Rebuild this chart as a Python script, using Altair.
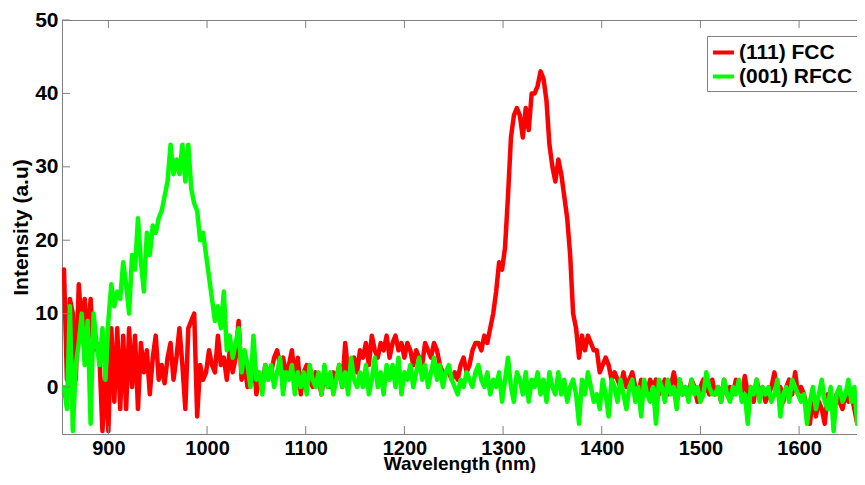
import altair as alt
import pandas as pd

# wavelength grid (nm)
wavelength = list(range(855, 1666, 3))

# (111) FCC intensity
fcc = [
    16, 1, 12, 10, 1, 14, 8, 12, 6, 12,
    5, 6, 4, -6, 2, -6, 8, -2, 8, -3,
    7, -3, 8, 0, 7, -3, 6, 2, 5, -1,
    4, 7, 1, 3, 0.5, 4, 6, 1, 4, 8,
    3, -3, 8, 9, 10, -4, 3, 1, 2, 5,
    3, 2, 7, 3, 4, 1, 5, 2, 4, 9,
    1, 3, 0, 2, 4, -1, 1, 0, 3, 2,
    2, 4, 5, 3, 4, 2, 3, 5, 1, 4,
    -1, 2, 3, 1, 0, 2, 1, -1, 2, 1,
    0, 2, 1, 3, 0, 6, 2, 3, 4, 2,
    5, 4, 6, 3, 7, 5, 4, 6, 5, 7,
    4, 6, 7, 5, 6, 4, 6, 5, 3, 5,
    4, 3, 6, 5, 4, 6, 5, 3, 2, 2,
    2, 1, 2, 1, 3, 4, 2, 3, 5, 6,
    6, 5, 7, 6, 8, 10, 13, 17, 16, 19,
    26, 34, 37, 38, 37, 34, 38, 35, 40, 40,
    41, 43, 42, 39, 33, 30, 28, 31, 29, 26,
    23, 18, 10, 8, 4, 7, 5, 7, 6, 5,
    5, 2, 3, 4, 3, 1, 2, 1, 0, 2,
    0, 1, 2, 0, -1, 1, 0, -1, 1, 0,
    1, -1, 0, 1, -1, 0, 2, 0, 1, -1,
    0, -1, 1, 0, -2, 0, 1, 0, -1, 1,
    -1, 0, -2, 1, -1, 0, -1, 1, 0, -1,
    1.5, -1, 0, -2, 1, -1, 0, -2, -1, 0,
    2, -1, 0, -2, 0, 1, -1, 2, -1, 0,
    -1, -3, -5, -1, -4, -2, -3, -5, -1, -2,
    -3, -1, -2, -3, -1, -2, -1, -3, -5, -3,
    -2,
]

# (001) RFCC intensity
rfcc = [
    0, -3, 11, -6, 3, 6, 10, 3, 9, -5,
    10, 6, 3, 8, 1, 9, 14, 11, 13, 12,
    17, 14, 10, 18, 16, 23, 17, 13, 21, 18,
    22, 21, 23, 24, 26, 28, 33, 29, 31, 29,
    33, 28, 33, 27, 25, 24, 20, 21, 18, 15,
    12, 9, 11, 8, 13, 5, 7, 4, 6, 8,
    2, 5, 3, 0, 7, 1, 2, -1, 3, 1,
    3, 0, 2, 4, -1, 2, 1, 3, -1, 2,
    0, 2, -1, 3, 1, 0, 2, -1, 3, 0,
    2, -1, 1, 3, 0, 2, -1, 4, 1, 0,
    2, 0, 3, -1, 1, 4, 0, 2, -1, 3,
    1, 3, 0, 4, -1, 2, 1, 3, 0, 2,
    4, 1, 3, 0, 2, 4, 1, 3, 0, 2,
    3, 1, 0, -1, 1, 0, 2, 1, 0, 2,
    3, 1, 0, 2, -1, 1, 0, 2, -2, 1,
    4, 0, -2, 2, 1, -1, 2, -2, 1, 0,
    2, -1, 1, -2, 2, 0, -1, 2, -1, 1,
    -2, 0, 1, -1, -5, 1, -1, 2, 0, -2,
    -1, -3, 1, -1, -4, 1, 0, -2, 1, -1,
    -3, 0, 1, -2, 0, -4, 1, -1, -2, 0,
    -5, 1, 0, -2, 1, -1, 0, -3, 1, -1,
    0, -2, 1, -1, 0, -2, -1, 2, 0, -1,
    -1, 0, -2, 1, -1, -2, 0, -1, 1, -2,
    -1, -5, 0, -1, 1, -2, 0, -1, 0, -2,
    -1, 1, -4, -1, 0, -2, 1, 0, -1, -2,
    -1, -5, -2, 0, -3, -1, 1, -2, -3, 0,
    -6, -1, 0, -2, -1, 1, -2, 0, -5, -1,
    -2,
]

series_names = ["(111) FCC", "(001) RFCC"]
series_colors = ["#ff0000", "#00ff00"]
x_ticks = [900, 1000, 1100, 1200, 1300, 1400, 1500, 1600]
y_ticks = [0, 10, 20, 30, 40, 50]

W, H = 795, 414
X_DOMAIN = [853, 1658.7]
Y_DOMAIN = [-6.4, 50]
FONT = "Liberation Sans"
GRAY = "#808080"

df = pd.DataFrame({
    "wl": wavelength * 2,
    "val": fcc + rfcc,
    "series": [series_names[0]] * len(wavelength) + [series_names[1]] * len(wavelength),
})

xscale = alt.Scale(domain=X_DOMAIN, nice=False, zero=False)
yscale = alt.Scale(domain=Y_DOMAIN, nice=False, zero=False)

xaxis = alt.Axis(
    title="Wavelength (nm)", values=x_ticks, format="d", ticks=False, tickSize=0,
    grid=False, domainColor=GRAY, labelFont=FONT, labelFontSize=20,
    labelFontWeight="bold", labelColor="black", labelPadding=4,
    titleFont=FONT, titleFontSize=19, titleFontWeight="bold", titleColor="black",
    titleY=35, titleBaseline="alphabetic", labelFlush=False,
)
yaxis = alt.Axis(
    title="Intensity (a.u)", values=y_ticks, format="d", ticks=False, tickSize=0,
    grid=False, domainColor=GRAY, labelFont=FONT, labelFontSize=21,
    labelFontWeight="bold", labelColor="black", labelPadding=4,
    titleFont=FONT, titleFontSize=21, titleFontWeight="bold", titleColor="black",
    titleX=-35, titleY=H / 2, titleBaseline="alphabetic", titleAlign="center",
    titleAngle=270, labelFlush=False,
)

color = alt.Color(
    "series:N",
    scale=alt.Scale(domain=series_names, range=series_colors),
    sort=series_names,
    legend=alt.Legend(
        title=None, orient="none", legendX=645, legendY=16,
        strokeColor=GRAY, fillColor="white", padding=4,
        symbolType="stroke", symbolSize=441, symbolStrokeWidth=4,
        labelFont=FONT, labelFontSize=21, labelFontWeight="bold",
        labelColor="black", labelOffset=3, rowPadding=1,
    ),
)

X = alt.X("wl:Q", scale=xscale, axis=xaxis)
Y = alt.Y("val:Q", scale=yscale, axis=yaxis)

base = alt.Chart(df)
red = base.transform_filter(alt.datum.series == series_names[0]).mark_line(
    strokeWidth=4.5, clip=True, strokeJoin="round", strokeCap="round"
).encode(x=X, y=Y, color=color)
green = base.transform_filter(alt.datum.series == series_names[1]).mark_line(
    strokeWidth=4.5, clip=True, strokeJoin="round", strokeCap="round"
).encode(x=X, y=Y, color=color)

xt = alt.Chart(pd.DataFrame({"wl": x_ticks}))
yt = alt.Chart(pd.DataFrame({"val": y_ticks}))
bottom_ticks = xt.mark_rule(color=GRAY, strokeWidth=1).encode(
    x=X, y=alt.value(H), y2=alt.value(H - 8))
top_ticks = xt.mark_rule(color=GRAY, strokeWidth=1).encode(
    x=X, y=alt.value(0), y2=alt.value(8))
left_ticks = yt.mark_rule(color=GRAY, strokeWidth=1).encode(
    y=Y, x=alt.value(0), x2=alt.value(8))
top_border = alt.Chart(pd.DataFrame({"a": [0]})).mark_rule(color=GRAY, strokeWidth=1).encode(
    x=alt.value(0), x2=alt.value(W), y=alt.value(0.5))

chart = alt.layer(red, green, bottom_ticks, top_ticks, left_ticks, top_border).properties(
    width=W, height=H, autosize="none",
    padding={"left": 54, "top": 12, "right": 0, "bottom": 39},
).configure_view(stroke=None).configure(background="white")

chart.save("out.html", embed_options={"renderer": "svg", "actions": False})
